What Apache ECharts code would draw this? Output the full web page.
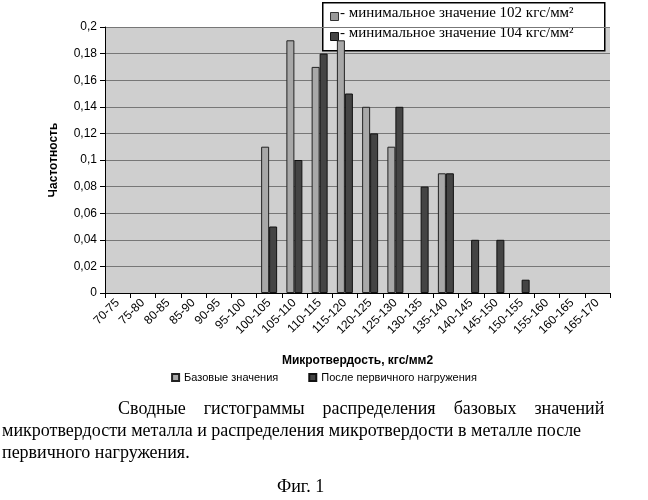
<!DOCTYPE html>
<html><head><meta charset="utf-8">
<script src="https://cdn.jsdelivr.net/npm/echarts@6/dist/echarts.min.js"></script>
<style>body{margin:0;background:#fff}#c{width:648px;height:500px}</style>
</head><body><div id="c"></div>
<script>
const categories = ['70-75','75-80','80-85','85-90','90-95','95-100','100-105','105-110','110-115','115-120','120-125','125-130','130-135','135-140','140-145','145-150','150-155','155-160','160-165','165-170']
const baseValues = [0,0,0,0,0,0,0.11,0.19,0.17,0.19,0.14,0.11,0,0.09,0,0,0,0,0,0]
const loadValues = [0,0,0,0,0,0,0.05,0.10,0.18,0.15,0.12,0.14,0.08,0.09,0.04,0.04,0.01,0,0,0]

const chart = echarts.init(document.getElementById('c'))
const fmt = v => String(Math.round(v*100)/100).replace('.', ',')
const noZero = arr => arr.map(v => v === 0 ? '-' : v)
chart.setOption({
    animation: false,
    textStyle: {fontFamily: 'Liberation Sans'},
    grid: {left: 105, right: 38, top: 27, bottom: 207, backgroundColor: '#cfcfcf', show: true, borderWidth: 0},
    xAxis: {
        type: 'category', data: categories,
        axisLine: {lineStyle: {color: '#000'}},
        axisTick: {show: true, lineStyle: {color: '#000'}},
        axisLabel: {rotate: 45, color: '#000', fontSize: 12, interval: 0},
        name: 'Микротвердость, кгс/мм2', nameLocation: 'middle', nameGap: 62,
        nameTextStyle: {fontWeight: 'bold', fontSize: 12, color: '#000'}
    },
    yAxis: {
        type: 'value', min: 0, max: 0.2, interval: 0.02,
        axisLine: {show: true, lineStyle: {color: '#000'}},
        axisTick: {show: true, lineStyle: {color: '#000'}},
        splitLine: {lineStyle: {color: '#777'}},
        axisLabel: {formatter: fmt, color: '#000', fontSize: 12},
        name: 'Частотность', nameLocation: 'middle', nameGap: 45, nameRotate: 90,
        nameTextStyle: {fontWeight: 'bold', fontSize: 12, color: '#000'}
    },
    legend: {
        bottom: 112, left: 'center', itemWidth: 7, itemHeight: 7, itemGap: 30,
        textStyle: {fontSize: 11, color: '#000'},
        icon: 'rect',
        data: ['Базовые значения', 'После первичного нагружения']
    },
    series: [
        {name: 'Базовые значения', type: 'bar', data: noZero(baseValues), barWidth: 8, barGap: '0%',
         itemStyle: {color: '#a8a8a8', borderColor: '#222', borderWidth: 1}},
        {name: 'После первичного нагружения', type: 'bar', data: noZero(loadValues), barWidth: 8,
         itemStyle: {color: '#444', borderColor: '#111', borderWidth: 1}}
    ],
    graphic: [
        {type: 'rect', left: 322, top: 2, shape: {width: 282, height: 48},
         style: {fill: '#fff', stroke: '#000', lineWidth: 1.5}},
        {type: 'rect', left: 330, top: 12, shape: {width: 8, height: 8}, style: {fill: '#999', stroke: '#333'}},
        {type: 'text', left: 340, top: 6, style: {text: '- минимальное значение 102 кгс/мм²', font: '15px "Liberation Serif"', fill: '#000'}},
        {type: 'rect', left: 330, top: 32, shape: {width: 8, height: 8}, style: {fill: '#444', stroke: '#111'}},
        {type: 'text', left: 340, top: 26, style: {text: '- минимальное значение 104 кгс/мм²', font: '15px "Liberation Serif"', fill: '#000'}},
        {type: 'text', left: 118, top: 400, style: {text: 'Сводные    гистограммы    распределения    базовых    значений', font: '18px "Liberation Serif"', fill: '#000'}},
        {type: 'text', left: 2, top: 422, style: {text: 'микротвердости металла и распределения микротвердости в металле после', font: '18px "Liberation Serif"', fill: '#000'}},
        {type: 'text', left: 2, top: 444, style: {text: 'первичного нагружения.', font: '18px "Liberation Serif"', fill: '#000'}},
        {type: 'text', left: 277, top: 478, style: {text: 'Фиг. 1', font: '18px "Liberation Serif"', fill: '#000'}}
    ]
})
</script></body></html>
